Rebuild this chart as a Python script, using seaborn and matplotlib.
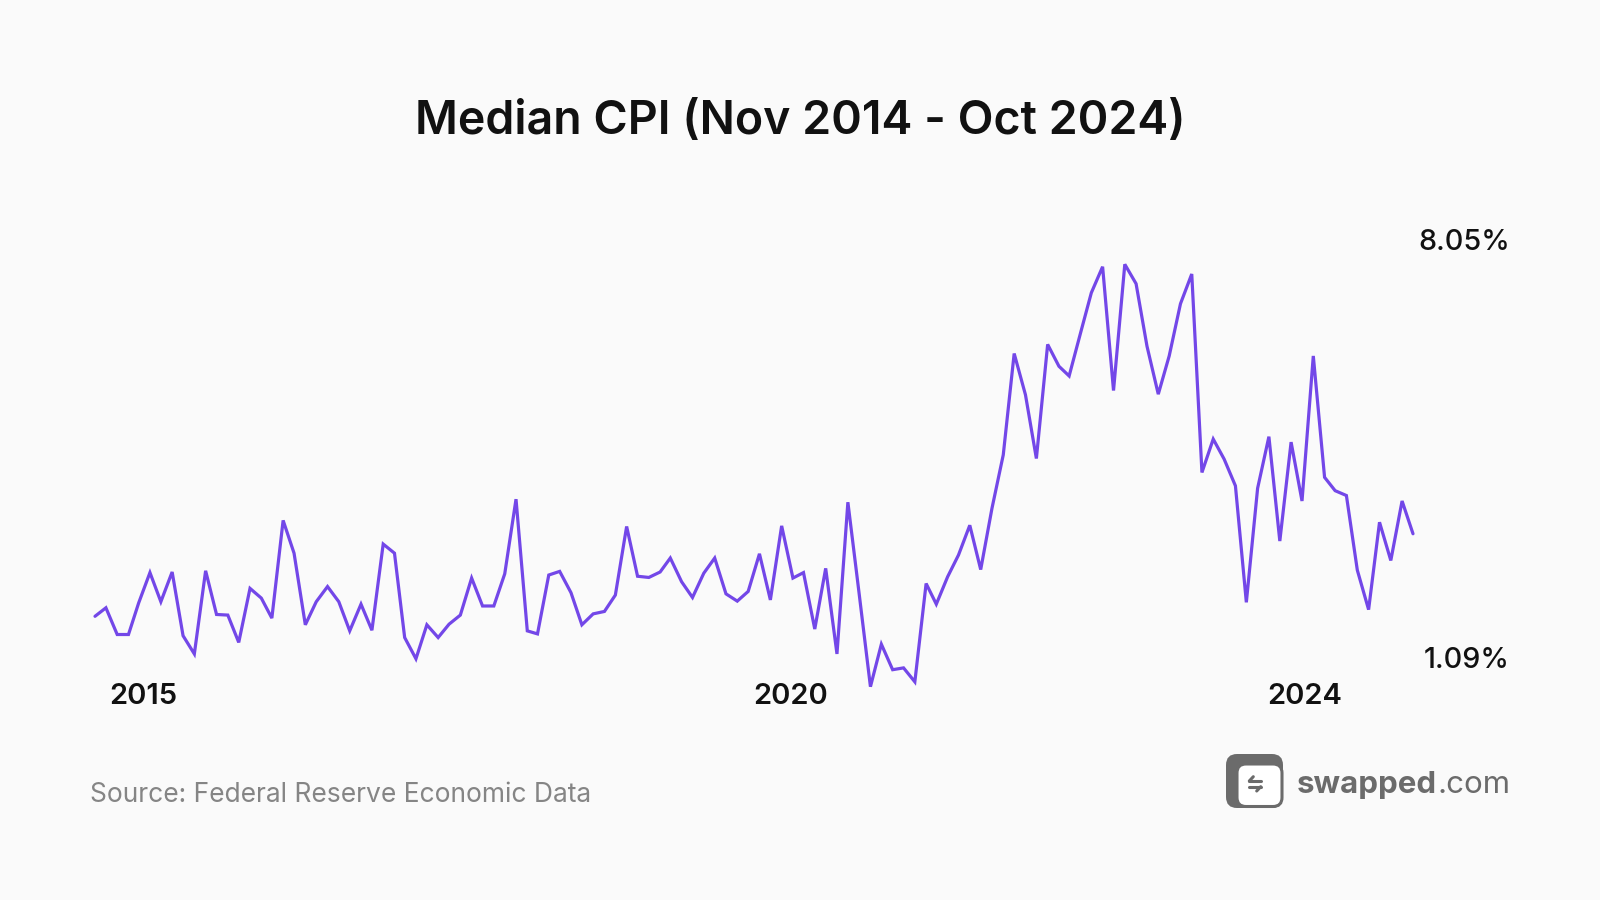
import pandas as pd
import matplotlib
matplotlib.use("Agg")
import matplotlib.pyplot as plt
import seaborn as sns
from matplotlib.patches import FancyBboxPatch

# =======================
# DATA
# =======================
START_MONTH = "2014-11-01"
MEDIAN_CPI = [
    2.25, 2.39, 1.95, 1.95, 2.47, 2.97, 2.49, 2.98, 1.93, 1.63,
    3.00, 2.28, 2.27, 1.82, 2.71, 2.55, 2.22, 3.83, 3.29, 2.11,
    2.49, 2.74, 2.49, 2.01, 2.45, 2.02, 3.44, 3.29, 1.90, 1.55,
    2.11, 1.90, 2.12, 2.27, 2.88, 2.42, 2.42, 2.95, 4.18, 2.01,
    1.96, 2.93, 2.99, 2.64, 2.11, 2.29, 2.33, 2.60, 3.73, 2.91,
    2.89, 2.98, 3.21, 2.82, 2.56, 2.96, 3.21, 2.62, 2.50, 2.66,
    3.28, 2.52, 3.74, 2.88, 2.97, 2.04, 3.04, 1.63, 4.13, 2.62,
    1.09, 1.79, 1.37, 1.40, 1.17, 2.79, 2.45, 2.90, 3.26, 3.75,
    3.02, 4.03, 4.91, 6.58, 5.90, 4.85, 6.73, 6.37, 6.21, 6.91,
    7.58, 8.01, 5.97, 8.05, 7.73, 6.70, 5.91, 6.54, 7.40, 7.89,
    4.62, 5.17, 4.84, 4.40, 2.48, 4.36, 5.21, 3.49, 5.12, 4.15,
    6.54, 4.54, 4.32, 4.24, 3.01, 2.36, 3.80, 3.17, 4.15, 3.61,
]
YEAR_LABELS = ["2015", "2020", "2024"]
YEAR_LABEL_DATES = ["2015-03-15", "2020-01-25", "2023-12-08"]

TITLE = "Median CPI (Nov 2014 - Oct 2024)"
SOURCE = "Source: Federal Reserve Economic Data"

BG = "#fafafa"
LINE_COLOR = "#7347e8"
LOGO_GRAY = "#6b6b6b"
FONT = ["Inter", "DejaVu Sans"]


def main():
    dates = pd.date_range(START_MONTH, periods=len(MEDIAN_CPI), freq="MS")
    df = pd.DataFrame({"month": dates, "cpi": MEDIAN_CPI})

    sns.set_theme(style="white")
    plt.rcParams["font.family"] = FONT

    fig = plt.figure(figsize=(16, 9), dpi=100, facecolor=BG)
    ax = fig.add_axes([95 / 1600, 1 - 686.7 / 900, 1318 / 1600, 422.4 / 900])
    ax.set_facecolor(BG)

    sns.lineplot(data=df, x="month", y="cpi", ax=ax, color=LINE_COLOR,
                 linewidth=2.3)
    for line in ax.lines:
        line.set_clip_on(False)
        line.set_solid_joinstyle("miter")

    ax.set_xlim(dates[0], dates[-1])
    ax.set_ylim(df["cpi"].min(), df["cpi"].max())
    ax.set_xticks([])
    ax.set_yticks([])
    ax.set_xlabel("")
    ax.set_ylabel("")
    sns.despine(ax=ax, left=True, bottom=True)

    # year labels under the line
    xt = ax.get_xaxis_transform()
    for lab, d in zip(YEAR_LABELS, YEAR_LABEL_DATES):
        ax.text(pd.Timestamp(d), -0.024, lab, transform=xt, ha="center",
                va="center", fontsize=21, fontweight="semibold", color="#111111")

    # max / min labels
    hi, lo = df["cpi"].max(), df["cpi"].min()
    fig.text(1510 / 1600, 1 - 242 / 900, f"{hi:.2f}%", ha="right", va="center",
             fontsize=20.7, fontweight="medium", color="#111111")
    fig.text(1510 / 1600, 1 - 661 / 900, f"{lo:.2f}%", ha="right", va="center",
             fontsize=20.7, fontweight="medium", color="#111111")

    # title and source
    fig.text(0.5, 1 - 122 / 900, TITLE, ha="center", va="center",
             fontsize=33.5, fontweight="semibold", color="#111111")
    fig.text(90 / 1600, 1 - 795 / 900, SOURCE, ha="left", va="center",
             fontsize=19, fontweight="normal", color="#858585")

    # swapped.com logo
    lax = fig.add_axes([1222 / 1600, 1 - 812 / 900, 64 / 1600, 62 / 900])
    lax.set_xlim(0, 64)
    lax.set_ylim(0, 62)
    lax.axis("off")
    lax.add_patch(FancyBboxPatch((4, 4), 57, 54, boxstyle="round,pad=0,rounding_size=11",
                                 fc=LOGO_GRAY, ec="none"))
    lax.add_patch(FancyBboxPatch((15, 5.5), 45, 42.5, boxstyle="round,pad=0,rounding_size=9",
                                 fc="white", ec=LOGO_GRAY, lw=2.2))
    lax.plot([27.3, 38.7], [31, 31], color=LOGO_GRAY, lw=2.2, solid_capstyle="round")
    lax.plot([27.3, 31.3], [31, 35.3], color=LOGO_GRAY, lw=2.2, solid_capstyle="round")
    lax.plot([27.3, 38.7], [25.3, 25.3], color=LOGO_GRAY, lw=2.2, solid_capstyle="round")
    lax.plot([38.7, 34.7], [25.3, 21], color=LOGO_GRAY, lw=2.2, solid_capstyle="round")

    t1 = fig.text(1297 / 1600, 1 - 793 / 900, "swapped", ha="left", va="baseline",
                  fontsize=22.5, fontweight="bold", color=LOGO_GRAY)
    fig.canvas.draw()
    bb = t1.get_window_extent()
    fig.text(bb.x1 / 1600, 1 - 793 / 900, ".com", ha="left", va="baseline",
             fontsize=22.5, fontweight="normal", color=LOGO_GRAY)

    fig.savefig("out.png", dpi=100, facecolor=BG)
    plt.close(fig)


if __name__ == "__main__":
    main()
